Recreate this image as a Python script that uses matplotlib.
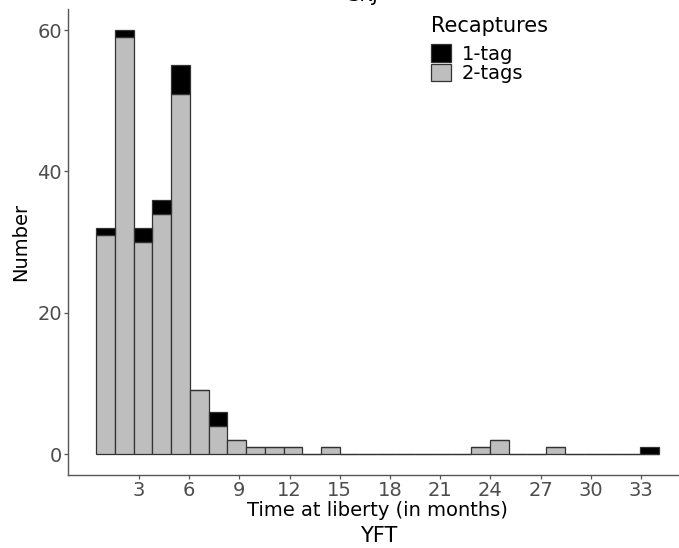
import matplotlib
matplotlib.use("Agg")
import matplotlib.pyplot as plt
from matplotlib.patches import Patch
import numpy as np

plt.rcParams['font.family'] = ['DejaVu Sans']

# Histogram bins (ggplot bins=30 between data min and max)
data_min = 1.0
data_max = 33.5
n_bins = 30
# counts per bin
two_tags = [31, 59, 30, 34, 51, 9, 4, 2, 1, 1, 1, 0, 1, 0, 0,
            0, 0, 0, 0, 0, 1, 2, 0, 0, 1, 0, 0, 0, 0, 0]
one_tag = [1, 1, 2, 2, 4, 0, 2, 0, 0, 0, 0, 0, 0, 0, 0,
           0, 0, 0, 0, 0, 0, 0, 0, 0, 0, 0, 0, 0, 0, 1]
x_ticks = [3, 6, 9, 12, 15, 18, 21, 24, 27, 30, 33]
y_ticks = [0, 20, 40, 60]

W, H = 679, 548
fig = plt.figure(figsize=(W / 100, H / 100), dpi=100)

width = (data_max - data_min) / (n_bins - 1)
centers = data_min + width * np.arange(n_bins)
lo = data_min - width / 2
hi = data_max + width / 2
xr = hi - lo
xlim = (lo - 0.05 * xr, hi + 0.05 * xr)
ylim = (-3, 63)

left_px, right_px = 68.0, 686.8
top_px, bot_px = 8.8, 475.2
ax = fig.add_axes([left_px / W, 1 - bot_px / H, (right_px - left_px) / W, (bot_px - top_px) / H])

two = np.array(two_tags, dtype=float)
one = np.array(one_tag, dtype=float)
edge = '#333333'
ax.bar(centers, two, width=width, color='#BEBEBE', edgecolor=edge, linewidth=0.9, zorder=2)
ax.bar(centers, one, width=width, bottom=two, color='black', edgecolor=edge, linewidth=0.9, zorder=2)

ax.set_xlim(*xlim)
ax.set_ylim(*ylim)
ax.set_xticks(x_ticks)
ax.set_yticks(y_ticks)
for s in ['top', 'right']:
    ax.spines[s].set_visible(False)
for s in ['left', 'bottom']:
    ax.spines[s].set_color('#555555')
    ax.spines[s].set_linewidth(1.0)
ax.tick_params(axis='both', colors='#555555', length=3, width=0.9,
               labelsize=14, labelcolor='#4D4D4D', pad=1.2)

ax.set_xlabel('Time at liberty (in months)', fontsize=14, color='black', labelpad=0.5)
ax.set_ylabel('Number', fontsize=14, color='black', labelpad=5)

fig.text(379 / W, 1 - 536.5 / H, 'YFT', fontsize=15, ha='center', va='center')
fig.text(363 / W, 1 - 0.8 / H, 'SKJ', fontsize=14, ha='center', va='baseline')

handles = [Patch(facecolor='black', edgecolor=edge, linewidth=0.9, label='1-tag'),
           Patch(facecolor='#BEBEBE', edgecolor=edge, linewidth=0.9, label='2-tags')]
leg = fig.legend(handles=handles, title='Recaptures', loc='upper left',
                 bbox_to_anchor=(427 / W, 1 - 12 / H), frameon=False,
                 fontsize=14, title_fontsize=15, handlelength=1.05, handleheight=1.0,
                 handletextpad=0.55, labelspacing=0.0, borderaxespad=0, borderpad=0.2)
leg._legend_box.align = 'left'
leg._legend_box.sep = 6

fig.savefig('out.png', dpi=100)
